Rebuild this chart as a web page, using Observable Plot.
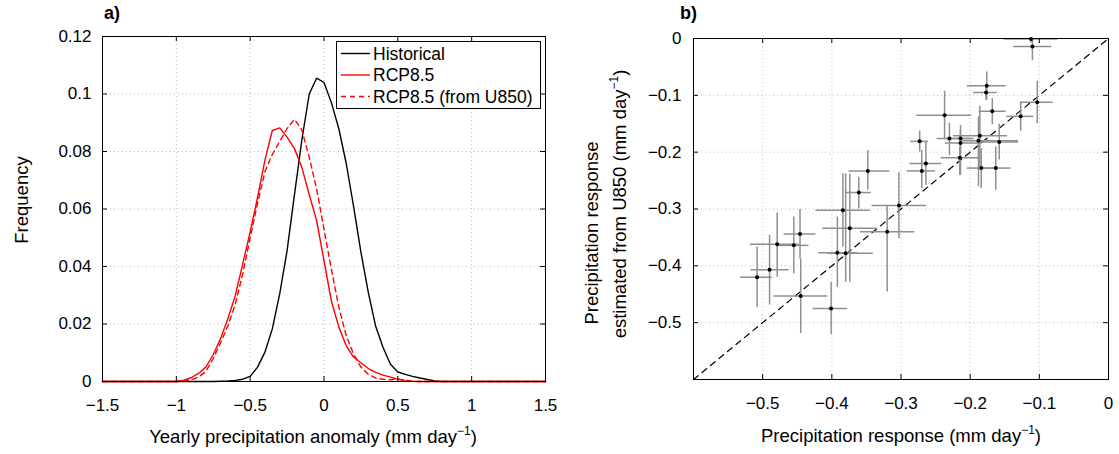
<!DOCTYPE html>
<html>
<head>
<meta charset="utf-8">
<script src="https://cdn.jsdelivr.net/npm/d3@7"></script>
<script src="https://cdn.jsdelivr.net/npm/@observablehq/plot@0.6"></script>
<style>
  html, body { margin: 0; padding: 0; background: white; }
  body { font-family: "Liberation Sans", Arial, Helvetica, sans-serif; }
  #wrap { position: relative; width: 1119px; height: 454px; overflow: hidden; }
  .abs { position: absolute; white-space: nowrap; color: black; }
  .lbl { font-size: 18.5px; }
  .rot { transform: translate(-50%, -50%) rotate(-90deg); }
  .ctr { transform: translate(-50%, -50%); }
  .panel { font-size: 18px; font-weight: bold; }
  sup { font-size: 12px; vertical-align: 8px; line-height: 0; }
</style>
</head>
<body>
<div id="wrap"></div>
<script>
// ---------- Panel a: frequency distributions ----------
const anomaly = [-1.5, -1.0, -0.95, -0.9, -0.85, -0.8, -0.75, -0.7, -0.65, -0.6, -0.55, -0.5, -0.45, -0.4, -0.35, -0.3, -0.25, -0.2, -0.15, -0.1, -0.05, 0, 0.05, 0.1, 0.15, 0.2, 0.25, 0.3, 0.35, 0.4, 0.45, 0.5, 0.55, 0.6, 0.65, 0.7, 0.75, 0.8, 1.5];
const historical = [0, 0, 0, 0, 0, 0, 0, 0.0001, 0.0002, 0.0004, 0.0008, 0.0018, 0.005, 0.0102, 0.0183, 0.0305, 0.0455, 0.065, 0.084, 0.1, 0.1055, 0.104, 0.097, 0.088, 0.076, 0.061, 0.045, 0.031, 0.0192, 0.0118, 0.006, 0.0033, 0.0025, 0.0018, 0.0012, 0.0007, 0.0002, 0, 0];
const rcp85 = [0, 0, 0.0005, 0.0013, 0.0028, 0.005, 0.0093, 0.015, 0.022, 0.03, 0.041, 0.052, 0.064, 0.077, 0.0873, 0.0882, 0.085, 0.081, 0.0745, 0.065, 0.056, 0.042, 0.028, 0.019, 0.0125, 0.0085, 0.0065, 0.0045, 0.0032, 0.0022, 0.0015, 0.0008, 0.0003, 0.0001, 0, 0, 0, 0, 0];
const rcp85U850 = [0, 0, 0.0002, 0.0006, 0.0015, 0.0035, 0.008, 0.0135, 0.0195, 0.027, 0.0375, 0.05, 0.062, 0.073, 0.079, 0.0835, 0.088, 0.0912, 0.0875, 0.078, 0.067, 0.053, 0.039, 0.026, 0.016, 0.0096, 0.005, 0.0025, 0.0012, 0.0008, 0.0006, 0.0008, 0.0005, 0.0001, 0, 0, 0, 0, 0];
const xTicksA = [-1.5, -1, -0.5, 0, 0.5, 1, 1.5];
const yTicksA = [0, 0.02, 0.04, 0.06, 0.08, 0.1, 0.12];

// ---------- Panel b: model responses ----------
const obsResp = [-0.112, -0.110, -0.176, -0.177, -0.168, -0.103, -0.127, -0.237, -0.230, -0.214, -0.214, -0.186, -0.188, -0.158, -0.215, -0.184, -0.163, -0.273, -0.264, -0.270, -0.348, -0.361, -0.384, -0.303, -0.374, -0.320, -0.392, -0.380, -0.446, -0.479, -0.455, -0.490, -0.508, -0.445, -0.401];
const estResp = [-0.001, -0.014, -0.083, -0.095, -0.128, -0.112, -0.137, -0.135, -0.176, -0.176, -0.184, -0.171, -0.180, -0.182, -0.210, -0.228, -0.228, -0.181, -0.220, -0.233, -0.233, -0.271, -0.302, -0.294, -0.334, -0.340, -0.377, -0.378, -0.344, -0.362, -0.364, -0.407, -0.420, -0.453, -0.475];
const obsLo = [-0.151, -0.137, -0.204, -0.195, -0.187, -0.127, -0.147, -0.277, -0.248, -0.233, -0.236, -0.224, -0.211, -0.185, -0.242, -0.204, -0.185, -0.286, -0.287, -0.291, -0.375, -0.380, -0.423, -0.342, -0.413, -0.359, -0.419, -0.406, -0.469, -0.518, -0.476, -0.517, -0.532, -0.484, -0.427];
const obsHi = [-0.073, -0.082, -0.148, -0.161, -0.148, -0.080, -0.108, -0.198, -0.198, -0.194, -0.182, -0.146, -0.130, -0.130, -0.185, -0.163, -0.141, -0.260, -0.241, -0.250, -0.316, -0.343, -0.345, -0.263, -0.334, -0.280, -0.363, -0.340, -0.423, -0.447, -0.433, -0.462, -0.486, -0.406, -0.377];
const estLo = [-0.008, -0.039, -0.109, -0.109, -0.152, -0.150, -0.163, -0.176, -0.206, -0.203, -0.241, -0.226, -0.261, -0.214, -0.241, -0.264, -0.267, -0.200, -0.258, -0.264, -0.267, -0.300, -0.367, -0.352, -0.429, -0.446, -0.438, -0.429, -0.388, -0.420, -0.414, -0.469, -0.473, -0.519, -0.521];
const estHi = [0, -0.003, -0.059, -0.085, -0.106, -0.075, -0.112, -0.093, -0.149, -0.153, -0.162, -0.119, -0.138, -0.151, -0.191, -0.194, -0.191, -0.163, -0.181, -0.197, -0.197, -0.244, -0.238, -0.236, -0.239, -0.294, -0.314, -0.238, -0.301, -0.307, -0.314, -0.346, -0.367, -0.388, -0.429];
const oneToOne = [-0.6, 0];
const xTicksB = [-0.5, -0.4, -0.3, -0.2, -0.1, 0];
const yTicksB = [-0.5, -0.4, -0.3, -0.2, -0.1, 0];

const FONT = '"Liberation Sans", Arial, Helvetica, sans-serif';
const TICK_FS = 17;
const fmt = d => (d === 0 ? "0" : String(d).replace("-", "\u2212"));
const wrap = document.getElementById("wrap");

// ---------- build panel a ----------
const curveRows = anomaly.map((x, i) => ({x, hist: historical[i], rcp: rcp85[i], u850: rcp85U850[i]}));
const A = {w: 560, h: 454, ml: 102, mr: 15, mt: 36, mb: 73};
const aInnerW = A.w - A.ml - A.mr, aInnerH = A.h - A.mt - A.mb;
const gridStyle = {stroke: "#a8a8a8", strokeOpacity: 1, strokeWidth: 0.8, strokeDasharray: "1,3"};
const plotA = Plot.plot({
  width: A.w, height: A.h,
  marginLeft: A.ml, marginRight: A.mr, marginTop: A.mt, marginBottom: A.mb,
  style: {fontFamily: FONT, fontSize: TICK_FS + "px", color: "black", background: "transparent", overflow: "visible"},
  x: {domain: [-1.5, 1.5]},
  y: {domain: [0, 0.12]},
  marks: [
    Plot.gridX(xTicksA.slice(1, -1), gridStyle),
    Plot.gridY(yTicksA.slice(1, -1), gridStyle),
    Plot.line(curveRows, {x: "x", y: "hist", stroke: "black", strokeWidth: 1.4}),
    Plot.line(curveRows, {x: "x", y: "u850", stroke: "#ff0000", strokeWidth: 1.4, strokeDasharray: "5,4"}),
    Plot.line(curveRows, {x: "x", y: "rcp", stroke: "#ff0000", strokeWidth: 1.4}),
    Plot.tickX(xTicksA, {x: d => d, insetTop: aInnerH - 5, strokeWidth: 1}),
    Plot.tickX(xTicksA, {x: d => d, insetBottom: aInnerH - 5, strokeWidth: 1}),
    Plot.tickY(yTicksA, {y: d => d, insetRight: aInnerW - 5, strokeWidth: 1}),
    Plot.tickY(yTicksA, {y: d => d, insetLeft: aInnerW - 5, strokeWidth: 1}),
    Plot.axisX(xTicksA, {tickSize: 0, tickPadding: 17, fontSize: TICK_FS, tickFormat: fmt, label: null}),
    Plot.axisY(yTicksA, {tickSize: 0, tickPadding: 11, fontSize: TICK_FS, tickFormat: fmt, label: null}),
    Plot.frame({stroke: "black", strokeWidth: 1})
  ]
});
plotA.style.position = "absolute";
plotA.style.left = "0px";
plotA.style.top = "0px";
wrap.appendChild(plotA);

// ---------- build panel b ----------
const modelRows = obsResp.map((x, i) => ({x, y: estResp[i], x1: obsLo[i], x2: obsHi[i], y1: estLo[i], y2: estHi[i]}));
const B = {left: 560, w: 559, h: 454, ml: 133, mr: 11, mt: 38, mb: 75};
const bInnerW = B.w - B.ml - B.mr, bInnerH = B.h - B.mt - B.mb;
const plotB = Plot.plot({
  width: B.w, height: B.h,
  marginLeft: B.ml, marginRight: B.mr, marginTop: B.mt, marginBottom: B.mb,
  style: {fontFamily: FONT, fontSize: TICK_FS + "px", color: "black", background: "transparent", overflow: "visible"},
  x: {domain: [-0.6, 0]},
  y: {domain: [-0.6, 0]},
  marks: [
    Plot.gridX(xTicksB.slice(0, -1), gridStyle),
    Plot.gridY(yTicksB.slice(0, -1), gridStyle),
    Plot.line(oneToOne.map(v => ({v})), {x: "v", y: "v", stroke: "black", strokeWidth: 1.2, strokeDasharray: "6,5"}),
    Plot.ruleX(modelRows, {x: "x", y1: "y1", y2: "y2", stroke: "#8f8f8f", strokeWidth: 1.5}),
    Plot.ruleY(modelRows, {y: "y", x1: "x1", x2: "x2", stroke: "#8f8f8f", strokeWidth: 1.5}),
    Plot.dot(modelRows, {x: "x", y: "y", r: 2, fill: "black", stroke: "none"}),
    Plot.tickX(xTicksB, {x: d => d, insetTop: bInnerH - 5, strokeWidth: 1}),
    Plot.tickX(xTicksB, {x: d => d, insetBottom: bInnerH - 5, strokeWidth: 1}),
    Plot.tickY(yTicksB, {y: d => d, insetRight: bInnerW - 5, strokeWidth: 1}),
    Plot.tickY(yTicksB, {y: d => d, insetLeft: bInnerW - 5, strokeWidth: 1}),
    Plot.axisX(xTicksB, {tickSize: 0, tickPadding: 17, fontSize: TICK_FS, tickFormat: fmt, label: null}),
    Plot.axisY(yTicksB, {tickSize: 0, tickPadding: 12, fontSize: TICK_FS, tickFormat: fmt, label: null}),
    Plot.frame({stroke: "black", strokeWidth: 1})
  ]
});
plotB.style.position = "absolute";
plotB.style.left = B.left + "px";
plotB.style.top = "0px";
wrap.appendChild(plotB);

// ---------- text overlays ----------
function addDiv(html, cls, left, top) {
  const d = document.createElement("div");
  d.className = "abs " + cls;
  d.innerHTML = html;
  d.style.left = left + "px";
  d.style.top = top + "px";
  wrap.appendChild(d);
  return d;
}
addDiv("a)", "panel", 104, 3);
addDiv("b)", "panel", 680, 3);
addDiv("Frequency", "lbl rot", 22, 200);
addDiv("Yearly precipitation anomaly (mm day<sup>−1</sup>)", "lbl ctr", 313, 437);
addDiv("Precipitation response (mm day<sup>−1</sup>)", "lbl ctr", 901, 436);
addDiv("Precipitation response", "lbl rot", 592, 233);
addDiv("estimated from U850 (mm day<sup>−1</sup>)", "lbl rot", 620, 204);

// ---------- legend ----------
const legendItems = [
  {label: "Historical", color: "black", dash: null},
  {label: "RCP8.5", color: "#ff0000", dash: null},
  {label: "RCP8.5 (from U850)", color: "#ff0000", dash: "5,4"}
];
const leg = document.createElement("div");
leg.className = "abs";
leg.style.left = "336px";
leg.style.top = "41px";
leg.style.width = "203px";
leg.style.height = "66px";
leg.style.border = "1px solid black";
leg.style.background = "white";
const ns = "http://www.w3.org/2000/svg";
const lsvg = document.createElementNS(ns, "svg");
lsvg.setAttribute("width", "203");
lsvg.setAttribute("height", "66");
lsvg.style.display = "block";
legendItems.forEach((it, i) => {
  const cy = 11.5 + i * 21.5;
  const ln = document.createElementNS(ns, "line");
  ln.setAttribute("x1", 4); ln.setAttribute("x2", 33);
  ln.setAttribute("y1", cy); ln.setAttribute("y2", cy);
  ln.setAttribute("stroke", it.color);
  ln.setAttribute("stroke-width", 1.4);
  if (it.dash) ln.setAttribute("stroke-dasharray", it.dash);
  lsvg.appendChild(ln);
  const tx = document.createElementNS(ns, "text");
  tx.setAttribute("x", 36); tx.setAttribute("y", cy);
  tx.setAttribute("dy", "0.35em");
  tx.setAttribute("font-family", FONT);
  tx.setAttribute("font-size", "17.5px");
  tx.textContent = it.label;
  lsvg.appendChild(tx);
});
leg.appendChild(lsvg);
wrap.appendChild(leg);
</script>
</body>
</html>
